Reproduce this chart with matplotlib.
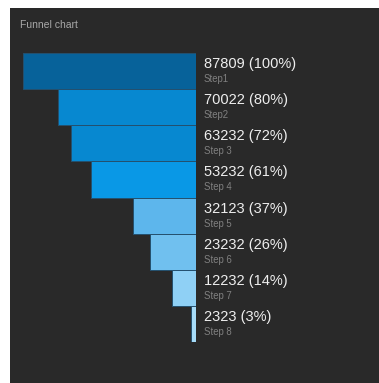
import matplotlib.pyplot as plt
from matplotlib.patches import Rectangle

# === Data ===
steps = ["Step1", "Step2", "Step 3", "Step 4", "Step 5", "Step 6", "Step 7", "Step 8"]
values = [87809, 70022, 63232, 53232, 32123, 23232, 12232, 2323]
colors = ["#07629a", "#0788d0", "#0788d0", "#0998e6",
          "#5db6ec", "#70c0ef", "#8fd0f5", "#a6dcf8"]

W, H, DPI = 379, 383, 100
BG = "#292929"
# ============


def px_box(x0, y0, x1, y1):
    """figure-fraction rect from pixel box measured from the top-left"""
    return [x0 / W, 1 - y1 / H, (x1 - x0) / W, (y1 - y0) / H]


def main():
    plt.rcParams["font.family"] = ["Liberation Sans", "DejaVu Sans"]
    fig = plt.figure(figsize=(W / DPI, H / DPI), dpi=DPI, facecolor="white")

    # dark card behind the chart (negative zorder keeps it under the axes)
    fig.patches.append(Rectangle((10 / W, 0), 1 - 10 / W, 1 - 8 / H,
                                 transform=fig.transFigure, facecolor=BG,
                                 edgecolor="none", zorder=-1))
    fig.text(20 / W, 1 - 25.5 / H, "Funnel chart", color="#a8a8a8",
             fontsize=7.5, va="center", ha="left")

    ax = fig.add_axes(px_box(23, 53, 196, 342))
    ax.set_facecolor("none")
    top = max(values)
    ypos = range(len(values))
    ax.barh(ypos, values, left=[top - v for v in values], height=1.0,
            color=colors, edgecolor="#24506e", linewidth=0.7)

    for i, (name, v) in enumerate(zip(steps, values)):
        pct = round(v / top * 100)
        ax.annotate(f"{v} ({pct}%)", xy=(top, i), xytext=(5.8, 5),
                    textcoords="offset points", ha="left", va="center",
                    color="#eeeeee", fontsize=10.5, annotation_clip=False)
        ax.annotate(name, xy=(top, i), xytext=(5.8, -5.8),
                    textcoords="offset points", ha="left", va="center",
                    color="#808080", fontsize=6.9, annotation_clip=False)

    ax.set_xlim(0, top)
    ax.set_ylim(len(values) - 0.5, -0.5)
    ax.axis("off")

    fig.savefig("out.png", dpi=DPI, facecolor=fig.get_facecolor())


if __name__ == "__main__":
    main()
